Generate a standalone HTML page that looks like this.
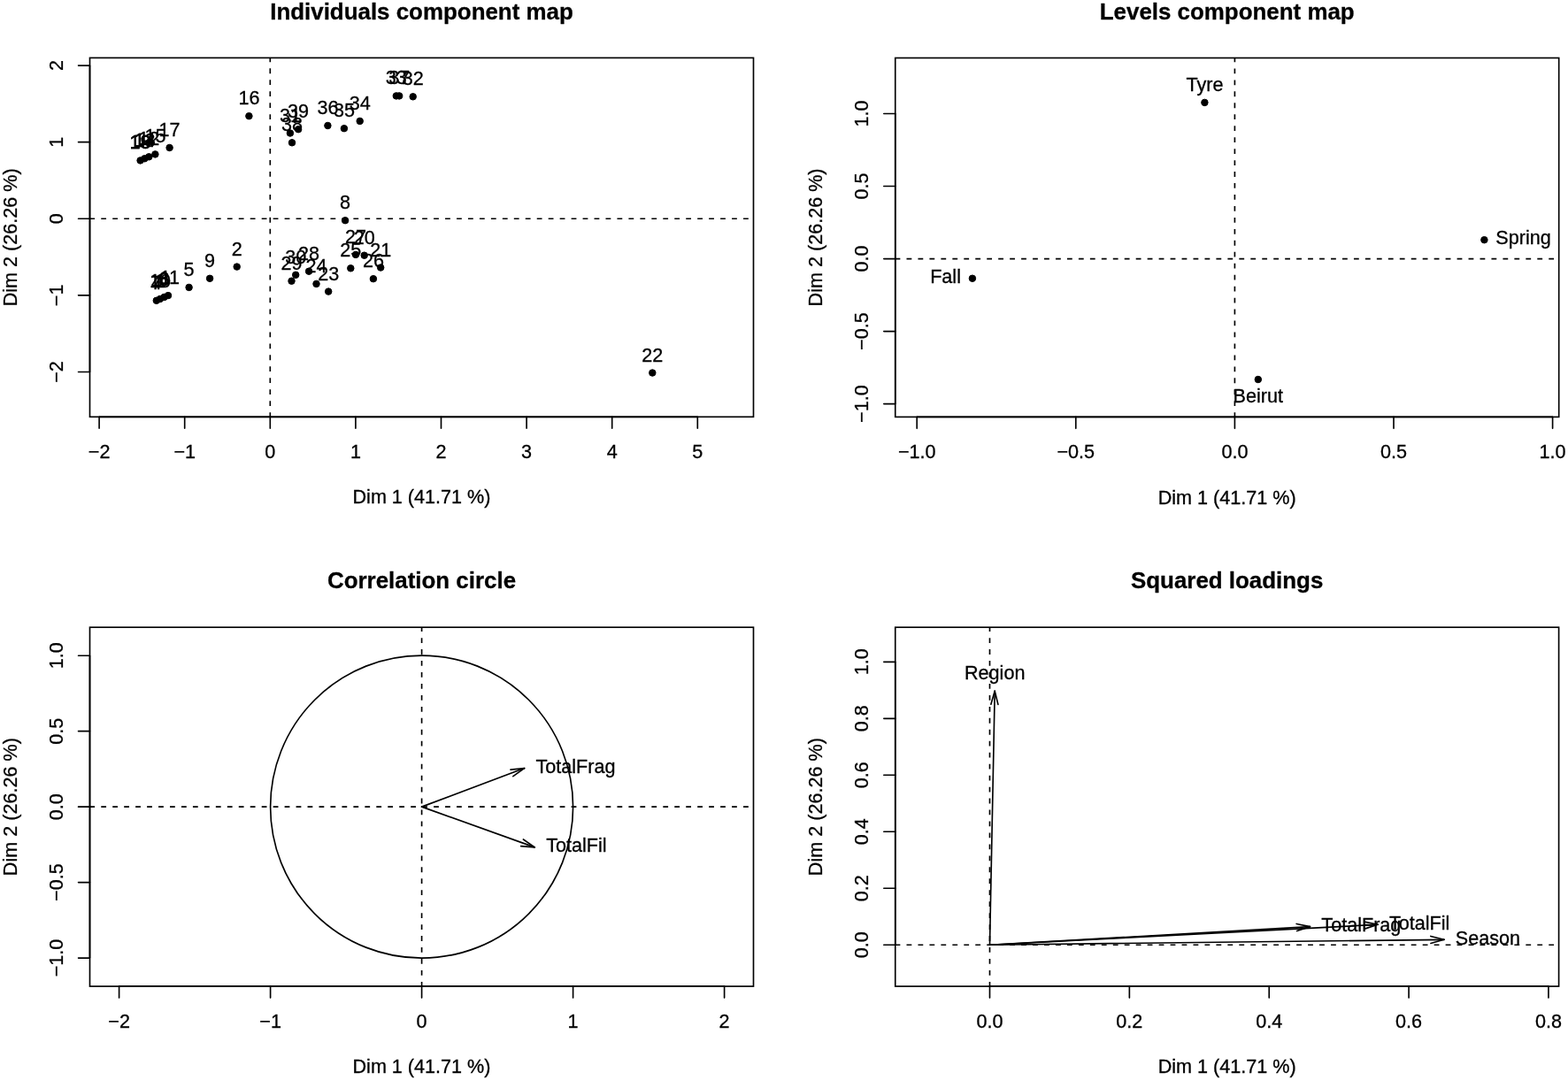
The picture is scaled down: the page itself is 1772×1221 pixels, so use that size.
<!DOCTYPE html>
<html><head><meta charset="utf-8"><title>PCAmix plots</title>
<style>
html,body{margin:0;padding:0;background:#fff;}
svg{display:block;filter:blur(0.45px);}
</style></head>
<body>
<svg width="1772" height="1221" viewBox="0 0 1772 1221">
<rect width="1772" height="1221" fill="#fff"/>
<g fill="#000" stroke="#000" font-family="'Liberation Sans', Arial, Helvetica, sans-serif" font-size="21.6">
<rect x="101.50" y="65.40" width="750.00" height="405.90" fill="none" stroke-width="1.65"/>
<line x1="112.10" y1="471.30" x2="788.30" y2="471.30" stroke-linecap="butt" stroke-width="1.65"/>
<line x1="112.10" y1="471.30" x2="112.10" y2="484.26" stroke-linecap="round" stroke-width="1.65"/>
<text stroke-width="0.3" x="112.10" y="518.20" text-anchor="middle">−2</text>
<line x1="208.70" y1="471.30" x2="208.70" y2="484.26" stroke-linecap="round" stroke-width="1.65"/>
<text stroke-width="0.3" x="208.70" y="518.20" text-anchor="middle">−1</text>
<line x1="305.30" y1="471.30" x2="305.30" y2="484.26" stroke-linecap="round" stroke-width="1.65"/>
<text stroke-width="0.3" x="305.30" y="518.20" text-anchor="middle">0</text>
<line x1="401.90" y1="471.30" x2="401.90" y2="484.26" stroke-linecap="round" stroke-width="1.65"/>
<text stroke-width="0.3" x="401.90" y="518.20" text-anchor="middle">1</text>
<line x1="498.50" y1="471.30" x2="498.50" y2="484.26" stroke-linecap="round" stroke-width="1.65"/>
<text stroke-width="0.3" x="498.50" y="518.20" text-anchor="middle">2</text>
<line x1="595.10" y1="471.30" x2="595.10" y2="484.26" stroke-linecap="round" stroke-width="1.65"/>
<text stroke-width="0.3" x="595.10" y="518.20" text-anchor="middle">3</text>
<line x1="691.70" y1="471.30" x2="691.70" y2="484.26" stroke-linecap="round" stroke-width="1.65"/>
<text stroke-width="0.3" x="691.70" y="518.20" text-anchor="middle">4</text>
<line x1="788.30" y1="471.30" x2="788.30" y2="484.26" stroke-linecap="round" stroke-width="1.65"/>
<text stroke-width="0.3" x="788.30" y="518.20" text-anchor="middle">5</text>
<line x1="101.50" y1="420.45" x2="101.50" y2="74.05" stroke-linecap="butt" stroke-width="1.65"/>
<line x1="101.50" y1="420.45" x2="88.54" y2="420.45" stroke-linecap="round" stroke-width="1.65"/>
<text stroke-width="0.3" transform="translate(70.80,420.45) rotate(-90)" x="0" y="0" text-anchor="middle">−2</text>
<line x1="101.50" y1="333.85" x2="88.54" y2="333.85" stroke-linecap="round" stroke-width="1.65"/>
<text stroke-width="0.3" transform="translate(70.80,333.85) rotate(-90)" x="0" y="0" text-anchor="middle">−1</text>
<line x1="101.50" y1="247.25" x2="88.54" y2="247.25" stroke-linecap="round" stroke-width="1.65"/>
<text stroke-width="0.3" transform="translate(70.80,247.25) rotate(-90)" x="0" y="0" text-anchor="middle">0</text>
<line x1="101.50" y1="160.65" x2="88.54" y2="160.65" stroke-linecap="round" stroke-width="1.65"/>
<text stroke-width="0.3" transform="translate(70.80,160.65) rotate(-90)" x="0" y="0" text-anchor="middle">1</text>
<line x1="101.50" y1="74.05" x2="88.54" y2="74.05" stroke-linecap="round" stroke-width="1.65"/>
<text stroke-width="0.3" transform="translate(70.80,74.05) rotate(-90)" x="0" y="0" text-anchor="middle">2</text>
<text stroke-width="0.3" x="476.50" y="21.50" text-anchor="middle" font-weight="bold" font-size="25.92">Individuals component map</text>
<text stroke-width="0.3" x="476.50" y="569.40" text-anchor="middle">Dim 1 (41.71 %)</text>
<text stroke-width="0.3" transform="translate(18.50,268.35) rotate(-90)" x="0" y="0" text-anchor="middle">Dim 2 (26.26 %)</text>
<path d="M101.50 247.25H107.10M114.26 247.25H120.06M127.22 247.25H133.02M140.18 247.25H145.98M153.14 247.25H158.94M166.10 247.25H171.90M179.06 247.25H184.86M192.02 247.25H197.82M204.98 247.25H210.78M217.94 247.25H223.74M230.90 247.25H236.70M243.86 247.25H249.66M256.82 247.25H262.62M269.78 247.25H275.58M282.74 247.25H288.54M295.70 247.25H301.50M308.66 247.25H314.46M321.62 247.25H327.42M334.58 247.25H340.38M347.54 247.25H353.34M360.50 247.25H366.30M373.46 247.25H379.26M386.42 247.25H392.22M399.38 247.25H405.18M412.34 247.25H418.14M425.30 247.25H431.10M438.26 247.25H444.06M451.22 247.25H457.02M464.18 247.25H469.98M477.14 247.25H482.94M490.10 247.25H495.90M503.06 247.25H508.86M516.02 247.25H521.82M528.98 247.25H534.78M541.94 247.25H547.74M554.90 247.25H560.70M567.86 247.25H573.66M580.82 247.25H586.62M593.78 247.25H599.58M606.74 247.25H612.54M619.70 247.25H625.50M632.66 247.25H638.46M645.62 247.25H651.42M658.58 247.25H664.38M671.54 247.25H677.34M684.50 247.25H690.30M697.46 247.25H703.26M710.42 247.25H716.22M723.38 247.25H729.18M736.34 247.25H742.14M749.30 247.25H755.10M762.26 247.25H768.06M775.22 247.25H781.02M788.18 247.25H793.98M801.14 247.25H806.94M814.10 247.25H819.90M827.06 247.25H832.86M840.02 247.25H845.82" fill="none" stroke-width="1.65"/>
<path d="M305.30 471.30V466.15M305.30 458.99V453.19M305.30 446.03V440.23M305.30 433.07V427.27M305.30 420.11V414.31M305.30 407.15V401.35M305.30 394.19V388.39M305.30 381.23V375.43M305.30 368.27V362.47M305.30 355.31V349.51M305.30 342.35V336.55M305.30 329.39V323.59M305.30 316.43V310.63M305.30 303.47V297.67M305.30 290.51V284.71M305.30 277.55V271.75M305.30 264.59V258.79M305.30 251.63V245.83M305.30 238.67V232.87M305.30 225.71V219.91M305.30 212.75V206.95M305.30 199.79V193.99M305.30 186.83V181.03M305.30 173.87V168.07M305.30 160.91V155.11M305.30 147.95V142.15M305.30 134.99V129.19M305.30 122.03V116.23M305.30 109.07V103.27M305.30 96.11V90.31M305.30 83.15V77.35M305.30 70.19V65.40" fill="none" stroke-width="1.65"/>
<rect x="1011.75" y="65.50" width="749.95" height="405.90" fill="none" stroke-width="1.65"/>
<line x1="1036.20" y1="471.40" x2="1754.60" y2="471.40" stroke-linecap="butt" stroke-width="1.65"/>
<line x1="1036.20" y1="471.40" x2="1036.20" y2="484.36" stroke-linecap="round" stroke-width="1.65"/>
<text stroke-width="0.3" x="1036.20" y="518.30" text-anchor="middle">−1.0</text>
<line x1="1215.80" y1="471.40" x2="1215.80" y2="484.36" stroke-linecap="round" stroke-width="1.65"/>
<text stroke-width="0.3" x="1215.80" y="518.30" text-anchor="middle">−0.5</text>
<line x1="1395.40" y1="471.40" x2="1395.40" y2="484.36" stroke-linecap="round" stroke-width="1.65"/>
<text stroke-width="0.3" x="1395.40" y="518.30" text-anchor="middle">0.0</text>
<line x1="1575.00" y1="471.40" x2="1575.00" y2="484.36" stroke-linecap="round" stroke-width="1.65"/>
<text stroke-width="0.3" x="1575.00" y="518.30" text-anchor="middle">0.5</text>
<line x1="1754.60" y1="471.40" x2="1754.60" y2="484.36" stroke-linecap="round" stroke-width="1.65"/>
<text stroke-width="0.3" x="1754.60" y="518.30" text-anchor="middle">1.0</text>
<line x1="1011.75" y1="456.60" x2="1011.75" y2="128.50" stroke-linecap="butt" stroke-width="1.65"/>
<line x1="1011.75" y1="456.60" x2="998.79" y2="456.60" stroke-linecap="round" stroke-width="1.65"/>
<text stroke-width="0.3" transform="translate(981.05,456.60) rotate(-90)" x="0" y="0" text-anchor="middle">−1.0</text>
<line x1="1011.75" y1="374.58" x2="998.79" y2="374.58" stroke-linecap="round" stroke-width="1.65"/>
<text stroke-width="0.3" transform="translate(981.05,374.58) rotate(-90)" x="0" y="0" text-anchor="middle">−0.5</text>
<line x1="1011.75" y1="292.55" x2="998.79" y2="292.55" stroke-linecap="round" stroke-width="1.65"/>
<text stroke-width="0.3" transform="translate(981.05,292.55) rotate(-90)" x="0" y="0" text-anchor="middle">0.0</text>
<line x1="1011.75" y1="210.53" x2="998.79" y2="210.53" stroke-linecap="round" stroke-width="1.65"/>
<text stroke-width="0.3" transform="translate(981.05,210.53) rotate(-90)" x="0" y="0" text-anchor="middle">0.5</text>
<line x1="1011.75" y1="128.50" x2="998.79" y2="128.50" stroke-linecap="round" stroke-width="1.65"/>
<text stroke-width="0.3" transform="translate(981.05,128.50) rotate(-90)" x="0" y="0" text-anchor="middle">1.0</text>
<text stroke-width="0.3" x="1386.72" y="21.60" text-anchor="middle" font-weight="bold" font-size="25.92">Levels component map</text>
<text stroke-width="0.3" x="1386.72" y="569.50" text-anchor="middle">Dim 1 (41.71 %)</text>
<text stroke-width="0.3" transform="translate(928.75,268.45) rotate(-90)" x="0" y="0" text-anchor="middle">Dim 2 (26.26 %)</text>
<path d="M1011.75 292.55H1017.35M1024.51 292.55H1030.31M1037.47 292.55H1043.27M1050.43 292.55H1056.23M1063.39 292.55H1069.19M1076.35 292.55H1082.15M1089.31 292.55H1095.11M1102.27 292.55H1108.07M1115.23 292.55H1121.03M1128.19 292.55H1133.99M1141.15 292.55H1146.95M1154.11 292.55H1159.91M1167.07 292.55H1172.87M1180.03 292.55H1185.83M1192.99 292.55H1198.79M1205.95 292.55H1211.75M1218.91 292.55H1224.71M1231.87 292.55H1237.67M1244.83 292.55H1250.63M1257.79 292.55H1263.59M1270.75 292.55H1276.55M1283.71 292.55H1289.51M1296.67 292.55H1302.47M1309.63 292.55H1315.43M1322.59 292.55H1328.39M1335.55 292.55H1341.35M1348.51 292.55H1354.31M1361.47 292.55H1367.27M1374.43 292.55H1380.23M1387.39 292.55H1393.19M1400.35 292.55H1406.15M1413.31 292.55H1419.11M1426.27 292.55H1432.07M1439.23 292.55H1445.03M1452.19 292.55H1457.99M1465.15 292.55H1470.95M1478.11 292.55H1483.91M1491.07 292.55H1496.87M1504.03 292.55H1509.83M1516.99 292.55H1522.79M1529.95 292.55H1535.75M1542.91 292.55H1548.71M1555.87 292.55H1561.67M1568.83 292.55H1574.63M1581.79 292.55H1587.59M1594.75 292.55H1600.55M1607.71 292.55H1613.51M1620.67 292.55H1626.47M1633.63 292.55H1639.43M1646.59 292.55H1652.39M1659.55 292.55H1665.35M1672.51 292.55H1678.31M1685.47 292.55H1691.27M1698.43 292.55H1704.23M1711.39 292.55H1717.19M1724.35 292.55H1730.15M1737.31 292.55H1743.11M1750.27 292.55H1756.07" fill="none" stroke-width="1.65"/>
<path d="M1395.40 471.40V466.25M1395.40 459.09V453.29M1395.40 446.13V440.33M1395.40 433.17V427.37M1395.40 420.21V414.41M1395.40 407.25V401.45M1395.40 394.29V388.49M1395.40 381.33V375.53M1395.40 368.37V362.57M1395.40 355.41V349.61M1395.40 342.45V336.65M1395.40 329.49V323.69M1395.40 316.53V310.73M1395.40 303.57V297.77M1395.40 290.61V284.81M1395.40 277.65V271.85M1395.40 264.69V258.89M1395.40 251.73V245.93M1395.40 238.77V232.97M1395.40 225.81V220.01M1395.40 212.85V207.05M1395.40 199.89V194.09M1395.40 186.93V181.13M1395.40 173.97V168.17M1395.40 161.01V155.21M1395.40 148.05V142.25M1395.40 135.09V129.29M1395.40 122.13V116.33M1395.40 109.17V103.37M1395.40 96.21V90.41M1395.40 83.25V77.45M1395.40 70.29V65.50" fill="none" stroke-width="1.65"/>
<rect x="101.50" y="709.20" width="750.00" height="405.90" fill="none" stroke-width="1.65"/>
<line x1="134.60" y1="1115.10" x2="818.60" y2="1115.10" stroke-linecap="butt" stroke-width="1.65"/>
<line x1="134.60" y1="1115.10" x2="134.60" y2="1128.06" stroke-linecap="round" stroke-width="1.65"/>
<text stroke-width="0.3" x="134.60" y="1162.00" text-anchor="middle">−2</text>
<line x1="305.60" y1="1115.10" x2="305.60" y2="1128.06" stroke-linecap="round" stroke-width="1.65"/>
<text stroke-width="0.3" x="305.60" y="1162.00" text-anchor="middle">−1</text>
<line x1="476.60" y1="1115.10" x2="476.60" y2="1128.06" stroke-linecap="round" stroke-width="1.65"/>
<text stroke-width="0.3" x="476.60" y="1162.00" text-anchor="middle">0</text>
<line x1="647.60" y1="1115.10" x2="647.60" y2="1128.06" stroke-linecap="round" stroke-width="1.65"/>
<text stroke-width="0.3" x="647.60" y="1162.00" text-anchor="middle">1</text>
<line x1="818.60" y1="1115.10" x2="818.60" y2="1128.06" stroke-linecap="round" stroke-width="1.65"/>
<text stroke-width="0.3" x="818.60" y="1162.00" text-anchor="middle">2</text>
<line x1="101.50" y1="1083.06" x2="101.50" y2="741.20" stroke-linecap="butt" stroke-width="1.65"/>
<line x1="101.50" y1="1083.06" x2="88.54" y2="1083.06" stroke-linecap="round" stroke-width="1.65"/>
<text stroke-width="0.3" transform="translate(70.80,1083.06) rotate(-90)" x="0" y="0" text-anchor="middle">−1.0</text>
<line x1="101.50" y1="997.60" x2="88.54" y2="997.60" stroke-linecap="round" stroke-width="1.65"/>
<text stroke-width="0.3" transform="translate(70.80,997.60) rotate(-90)" x="0" y="0" text-anchor="middle">−0.5</text>
<line x1="101.50" y1="912.13" x2="88.54" y2="912.13" stroke-linecap="round" stroke-width="1.65"/>
<text stroke-width="0.3" transform="translate(70.80,912.13) rotate(-90)" x="0" y="0" text-anchor="middle">0.0</text>
<line x1="101.50" y1="826.66" x2="88.54" y2="826.66" stroke-linecap="round" stroke-width="1.65"/>
<text stroke-width="0.3" transform="translate(70.80,826.66) rotate(-90)" x="0" y="0" text-anchor="middle">0.5</text>
<line x1="101.50" y1="741.20" x2="88.54" y2="741.20" stroke-linecap="round" stroke-width="1.65"/>
<text stroke-width="0.3" transform="translate(70.80,741.20) rotate(-90)" x="0" y="0" text-anchor="middle">1.0</text>
<text stroke-width="0.3" x="476.50" y="665.30" text-anchor="middle" font-weight="bold" font-size="25.92">Correlation circle</text>
<text stroke-width="0.3" x="476.50" y="1213.20" text-anchor="middle">Dim 1 (41.71 %)</text>
<text stroke-width="0.3" transform="translate(18.50,912.15) rotate(-90)" x="0" y="0" text-anchor="middle">Dim 2 (26.26 %)</text>
<path d="M101.50 912.13H107.10M114.26 912.13H120.06M127.22 912.13H133.02M140.18 912.13H145.98M153.14 912.13H158.94M166.10 912.13H171.90M179.06 912.13H184.86M192.02 912.13H197.82M204.98 912.13H210.78M217.94 912.13H223.74M230.90 912.13H236.70M243.86 912.13H249.66M256.82 912.13H262.62M269.78 912.13H275.58M282.74 912.13H288.54M295.70 912.13H301.50M308.66 912.13H314.46M321.62 912.13H327.42M334.58 912.13H340.38M347.54 912.13H353.34M360.50 912.13H366.30M373.46 912.13H379.26M386.42 912.13H392.22M399.38 912.13H405.18M412.34 912.13H418.14M425.30 912.13H431.10M438.26 912.13H444.06M451.22 912.13H457.02M464.18 912.13H469.98M477.14 912.13H482.94M490.10 912.13H495.90M503.06 912.13H508.86M516.02 912.13H521.82M528.98 912.13H534.78M541.94 912.13H547.74M554.90 912.13H560.70M567.86 912.13H573.66M580.82 912.13H586.62M593.78 912.13H599.58M606.74 912.13H612.54M619.70 912.13H625.50M632.66 912.13H638.46M645.62 912.13H651.42M658.58 912.13H664.38M671.54 912.13H677.34M684.50 912.13H690.30M697.46 912.13H703.26M710.42 912.13H716.22M723.38 912.13H729.18M736.34 912.13H742.14M749.30 912.13H755.10M762.26 912.13H768.06M775.22 912.13H781.02M788.18 912.13H793.98M801.14 912.13H806.94M814.10 912.13H819.90M827.06 912.13H832.86M840.02 912.13H845.82" fill="none" stroke-width="1.65"/>
<path d="M476.60 1115.10V1109.95M476.60 1102.79V1096.99M476.60 1089.83V1084.03M476.60 1076.87V1071.07M476.60 1063.91V1058.11M476.60 1050.95V1045.15M476.60 1037.99V1032.19M476.60 1025.03V1019.23M476.60 1012.07V1006.27M476.60 999.11V993.31M476.60 986.15V980.35M476.60 973.19V967.39M476.60 960.23V954.43M476.60 947.27V941.47M476.60 934.31V928.51M476.60 921.35V915.55M476.60 908.39V902.59M476.60 895.43V889.63M476.60 882.47V876.67M476.60 869.51V863.71M476.60 856.55V850.75M476.60 843.59V837.79M476.60 830.63V824.83M476.60 817.67V811.87M476.60 804.71V798.91M476.60 791.75V785.95M476.60 778.79V772.99M476.60 765.83V760.03M476.60 752.87V747.07M476.60 739.91V734.11M476.60 726.95V721.15M476.60 713.99V709.20" fill="none" stroke-width="1.65"/>
<rect x="1011.75" y="709.20" width="749.85" height="405.90" fill="none" stroke-width="1.65"/>
<line x1="1118.50" y1="1115.10" x2="1749.94" y2="1115.10" stroke-linecap="butt" stroke-width="1.65"/>
<line x1="1118.50" y1="1115.10" x2="1118.50" y2="1128.06" stroke-linecap="round" stroke-width="1.65"/>
<text stroke-width="0.3" x="1118.50" y="1162.00" text-anchor="middle">0.0</text>
<line x1="1276.36" y1="1115.10" x2="1276.36" y2="1128.06" stroke-linecap="round" stroke-width="1.65"/>
<text stroke-width="0.3" x="1276.36" y="1162.00" text-anchor="middle">0.2</text>
<line x1="1434.22" y1="1115.10" x2="1434.22" y2="1128.06" stroke-linecap="round" stroke-width="1.65"/>
<text stroke-width="0.3" x="1434.22" y="1162.00" text-anchor="middle">0.4</text>
<line x1="1592.08" y1="1115.10" x2="1592.08" y2="1128.06" stroke-linecap="round" stroke-width="1.65"/>
<text stroke-width="0.3" x="1592.08" y="1162.00" text-anchor="middle">0.6</text>
<line x1="1749.94" y1="1115.10" x2="1749.94" y2="1128.06" stroke-linecap="round" stroke-width="1.65"/>
<text stroke-width="0.3" x="1749.94" y="1162.00" text-anchor="middle">0.8</text>
<line x1="1011.75" y1="1068.23" x2="1011.75" y2="748.33" stroke-linecap="butt" stroke-width="1.65"/>
<line x1="1011.75" y1="1068.23" x2="998.79" y2="1068.23" stroke-linecap="round" stroke-width="1.65"/>
<text stroke-width="0.3" transform="translate(981.05,1068.23) rotate(-90)" x="0" y="0" text-anchor="middle">0.0</text>
<line x1="1011.75" y1="1004.25" x2="998.79" y2="1004.25" stroke-linecap="round" stroke-width="1.65"/>
<text stroke-width="0.3" transform="translate(981.05,1004.25) rotate(-90)" x="0" y="0" text-anchor="middle">0.2</text>
<line x1="1011.75" y1="940.27" x2="998.79" y2="940.27" stroke-linecap="round" stroke-width="1.65"/>
<text stroke-width="0.3" transform="translate(981.05,940.27) rotate(-90)" x="0" y="0" text-anchor="middle">0.4</text>
<line x1="1011.75" y1="876.29" x2="998.79" y2="876.29" stroke-linecap="round" stroke-width="1.65"/>
<text stroke-width="0.3" transform="translate(981.05,876.29) rotate(-90)" x="0" y="0" text-anchor="middle">0.6</text>
<line x1="1011.75" y1="812.31" x2="998.79" y2="812.31" stroke-linecap="round" stroke-width="1.65"/>
<text stroke-width="0.3" transform="translate(981.05,812.31) rotate(-90)" x="0" y="0" text-anchor="middle">0.8</text>
<line x1="1011.75" y1="748.33" x2="998.79" y2="748.33" stroke-linecap="round" stroke-width="1.65"/>
<text stroke-width="0.3" transform="translate(981.05,748.33) rotate(-90)" x="0" y="0" text-anchor="middle">1.0</text>
<text stroke-width="0.3" x="1386.67" y="665.30" text-anchor="middle" font-weight="bold" font-size="25.92">Squared loadings</text>
<text stroke-width="0.3" x="1386.67" y="1213.20" text-anchor="middle">Dim 1 (41.71 %)</text>
<text stroke-width="0.3" transform="translate(928.75,912.15) rotate(-90)" x="0" y="0" text-anchor="middle">Dim 2 (26.26 %)</text>
<path d="M1011.75 1068.23H1017.35M1024.51 1068.23H1030.31M1037.47 1068.23H1043.27M1050.43 1068.23H1056.23M1063.39 1068.23H1069.19M1076.35 1068.23H1082.15M1089.31 1068.23H1095.11M1102.27 1068.23H1108.07M1115.23 1068.23H1121.03M1128.19 1068.23H1133.99M1141.15 1068.23H1146.95M1154.11 1068.23H1159.91M1167.07 1068.23H1172.87M1180.03 1068.23H1185.83M1192.99 1068.23H1198.79M1205.95 1068.23H1211.75M1218.91 1068.23H1224.71M1231.87 1068.23H1237.67M1244.83 1068.23H1250.63M1257.79 1068.23H1263.59M1270.75 1068.23H1276.55M1283.71 1068.23H1289.51M1296.67 1068.23H1302.47M1309.63 1068.23H1315.43M1322.59 1068.23H1328.39M1335.55 1068.23H1341.35M1348.51 1068.23H1354.31M1361.47 1068.23H1367.27M1374.43 1068.23H1380.23M1387.39 1068.23H1393.19M1400.35 1068.23H1406.15M1413.31 1068.23H1419.11M1426.27 1068.23H1432.07M1439.23 1068.23H1445.03M1452.19 1068.23H1457.99M1465.15 1068.23H1470.95M1478.11 1068.23H1483.91M1491.07 1068.23H1496.87M1504.03 1068.23H1509.83M1516.99 1068.23H1522.79M1529.95 1068.23H1535.75M1542.91 1068.23H1548.71M1555.87 1068.23H1561.67M1568.83 1068.23H1574.63M1581.79 1068.23H1587.59M1594.75 1068.23H1600.55M1607.71 1068.23H1613.51M1620.67 1068.23H1626.47M1633.63 1068.23H1639.43M1646.59 1068.23H1652.39M1659.55 1068.23H1665.35M1672.51 1068.23H1678.31M1685.47 1068.23H1691.27M1698.43 1068.23H1704.23M1711.39 1068.23H1717.19M1724.35 1068.23H1730.15M1737.31 1068.23H1743.11M1750.27 1068.23H1756.07" fill="none" stroke-width="1.65"/>
<path d="M1118.50 1115.10V1109.95M1118.50 1102.79V1096.99M1118.50 1089.83V1084.03M1118.50 1076.87V1071.07M1118.50 1063.91V1058.11M1118.50 1050.95V1045.15M1118.50 1037.99V1032.19M1118.50 1025.03V1019.23M1118.50 1012.07V1006.27M1118.50 999.11V993.31M1118.50 986.15V980.35M1118.50 973.19V967.39M1118.50 960.23V954.43M1118.50 947.27V941.47M1118.50 934.31V928.51M1118.50 921.35V915.55M1118.50 908.39V902.59M1118.50 895.43V889.63M1118.50 882.47V876.67M1118.50 869.51V863.71M1118.50 856.55V850.75M1118.50 843.59V837.79M1118.50 830.63V824.83M1118.50 817.67V811.87M1118.50 804.71V798.91M1118.50 791.75V785.95M1118.50 778.79V772.99M1118.50 765.83V760.03M1118.50 752.87V747.07M1118.50 739.91V734.11M1118.50 726.95V721.15M1118.50 713.99V709.20" fill="none" stroke-width="1.65"/>
<circle cx="281.40" cy="131.20" r="3.75"/>
<circle cx="191.60" cy="167.00" r="3.75"/>
<circle cx="158.60" cy="181.40" r="3.75"/>
<circle cx="163.40" cy="179.30" r="3.75"/>
<circle cx="168.30" cy="177.30" r="3.75"/>
<circle cx="175.40" cy="174.40" r="3.75"/>
<circle cx="327.90" cy="150.50" r="3.75"/>
<circle cx="337.10" cy="146.20" r="3.75"/>
<circle cx="330.00" cy="161.30" r="3.75"/>
<circle cx="370.40" cy="142.00" r="3.75"/>
<circle cx="388.90" cy="145.20" r="3.75"/>
<circle cx="406.70" cy="136.90" r="3.75"/>
<circle cx="447.80" cy="108.40" r="3.75"/>
<circle cx="451.20" cy="108.40" r="3.75"/>
<circle cx="466.70" cy="109.30" r="3.75"/>
<circle cx="390.10" cy="249.20" r="3.75"/>
<circle cx="329.50" cy="317.70" r="3.75"/>
<circle cx="334.20" cy="310.80" r="3.75"/>
<circle cx="349.10" cy="306.70" r="3.75"/>
<circle cx="357.50" cy="320.90" r="3.75"/>
<circle cx="371.20" cy="329.60" r="3.75"/>
<circle cx="396.30" cy="303.30" r="3.75"/>
<circle cx="402.00" cy="287.90" r="3.75"/>
<circle cx="411.70" cy="288.70" r="3.75"/>
<circle cx="430.20" cy="302.50" r="3.75"/>
<circle cx="421.90" cy="315.20" r="3.75"/>
<circle cx="737.30" cy="421.50" r="3.75"/>
<circle cx="267.70" cy="301.60" r="3.75"/>
<circle cx="237.10" cy="314.80" r="3.75"/>
<circle cx="213.60" cy="324.90" r="3.75"/>
<circle cx="176.80" cy="339.80" r="3.75"/>
<circle cx="180.90" cy="338.00" r="3.75"/>
<circle cx="185.60" cy="335.90" r="3.75"/>
<circle cx="190.00" cy="334.10" r="3.75"/>
<text stroke-width="0.3" x="281.40" y="118.20" text-anchor="middle">16</text>
<text stroke-width="0.3" x="191.60" y="154.00" text-anchor="middle">17</text>
<text stroke-width="0.3" x="158.60" y="168.40" text-anchor="middle">18</text>
<text stroke-width="0.3" x="158.60" y="168.40" text-anchor="middle">19</text>
<text stroke-width="0.3" x="163.40" y="166.30" text-anchor="middle">13</text>
<text stroke-width="0.3" x="163.40" y="166.30" text-anchor="middle">14</text>
<text stroke-width="0.3" x="168.30" y="164.30" text-anchor="middle">12</text>
<text stroke-width="0.3" x="175.40" y="161.40" text-anchor="middle">15</text>
<text stroke-width="0.3" x="327.90" y="137.50" text-anchor="middle">31</text>
<text stroke-width="0.3" x="337.10" y="133.20" text-anchor="middle">39</text>
<text stroke-width="0.3" x="330.00" y="148.30" text-anchor="middle">38</text>
<text stroke-width="0.3" x="370.40" y="129.00" text-anchor="middle">36</text>
<text stroke-width="0.3" x="388.90" y="132.20" text-anchor="middle">35</text>
<text stroke-width="0.3" x="406.70" y="123.90" text-anchor="middle">34</text>
<text stroke-width="0.3" x="447.80" y="95.40" text-anchor="middle">33</text>
<text stroke-width="0.3" x="451.20" y="95.40" text-anchor="middle">37</text>
<text stroke-width="0.3" x="466.70" y="96.30" text-anchor="middle">32</text>
<text stroke-width="0.3" x="390.10" y="236.20" text-anchor="middle">8</text>
<text stroke-width="0.3" x="329.50" y="304.70" text-anchor="middle">29</text>
<text stroke-width="0.3" x="334.20" y="297.80" text-anchor="middle">30</text>
<text stroke-width="0.3" x="349.10" y="293.70" text-anchor="middle">28</text>
<text stroke-width="0.3" x="357.50" y="307.90" text-anchor="middle">24</text>
<text stroke-width="0.3" x="371.20" y="316.60" text-anchor="middle">23</text>
<text stroke-width="0.3" x="396.30" y="290.30" text-anchor="middle">25</text>
<text stroke-width="0.3" x="402.00" y="274.90" text-anchor="middle">27</text>
<text stroke-width="0.3" x="411.70" y="275.70" text-anchor="middle">20</text>
<text stroke-width="0.3" x="430.20" y="289.50" text-anchor="middle">21</text>
<text stroke-width="0.3" x="421.90" y="302.20" text-anchor="middle">26</text>
<text stroke-width="0.3" x="737.30" y="408.50" text-anchor="middle">22</text>
<text stroke-width="0.3" x="267.70" y="288.60" text-anchor="middle">2</text>
<text stroke-width="0.3" x="237.10" y="301.80" text-anchor="middle">9</text>
<text stroke-width="0.3" x="213.60" y="311.90" text-anchor="middle">5</text>
<text stroke-width="0.3" x="176.80" y="326.80" text-anchor="middle">7</text>
<text stroke-width="0.3" x="176.80" y="326.80" text-anchor="middle">4</text>
<text stroke-width="0.3" x="180.90" y="325.00" text-anchor="middle">1</text>
<text stroke-width="0.3" x="180.90" y="325.00" text-anchor="middle">10</text>
<text stroke-width="0.3" x="185.60" y="322.90" text-anchor="middle">6</text>
<text stroke-width="0.3" x="185.60" y="322.90" text-anchor="middle">3</text>
<text stroke-width="0.3" x="191.90" y="321.10" text-anchor="middle">11</text>
<circle cx="1361.40" cy="115.90" r="3.75"/>
<text stroke-width="0.3" x="1361.40" y="102.90" text-anchor="middle">Tyre</text>
<circle cx="1677.40" cy="271.20" r="3.75"/>
<text stroke-width="0.3" x="1690.36" y="276.40" text-anchor="start">Spring</text>
<circle cx="1098.90" cy="314.75" r="3.75"/>
<text stroke-width="0.3" x="1085.94" y="319.95" text-anchor="end">Fall</text>
<circle cx="1421.80" cy="429.00" r="3.75"/>
<text stroke-width="0.3" x="1421.80" y="455.10" text-anchor="middle">Beirut</text>
<circle cx="476.6" cy="912.13" r="171.0" fill="none" stroke-width="1.65"/>
<line x1="476.60" y1="912.13" x2="592.50" y2="868.60" stroke-linecap="round" stroke-width="1.65"/>
<line x1="592.50" y1="868.60" x2="577.02" y2="870.11" stroke-linecap="round" stroke-width="1.65"/>
<line x1="592.50" y1="868.60" x2="579.85" y2="877.65" stroke-linecap="round" stroke-width="1.65"/>
<text stroke-width="0.3" x="605.46" y="873.80" text-anchor="start">TotalFrag</text>
<line x1="476.60" y1="912.13" x2="604.20" y2="957.85" stroke-linecap="round" stroke-width="1.65"/>
<line x1="604.20" y1="957.85" x2="591.42" y2="948.99" stroke-linecap="round" stroke-width="1.65"/>
<line x1="604.20" y1="957.85" x2="588.70" y2="956.57" stroke-linecap="round" stroke-width="1.65"/>
<text stroke-width="0.3" x="617.16" y="963.05" text-anchor="start">TotalFil</text>
<line x1="1118.50" y1="1068.23" x2="1124.20" y2="781.30" stroke-linecap="round" stroke-width="1.65"/>
<line x1="1124.20" y1="781.30" x2="1119.88" y2="796.24" stroke-linecap="round" stroke-width="1.65"/>
<line x1="1124.20" y1="781.30" x2="1127.93" y2="796.40" stroke-linecap="round" stroke-width="1.65"/>
<text stroke-width="0.3" x="1124.20" y="768.30" text-anchor="middle">Region</text>
<line x1="1118.50" y1="1068.23" x2="1480.40" y2="1047.60" stroke-linecap="round" stroke-width="1.65"/>
<line x1="1480.40" y1="1047.60" x2="1465.18" y2="1044.44" stroke-linecap="round" stroke-width="1.65"/>
<line x1="1480.40" y1="1047.60" x2="1465.63" y2="1052.47" stroke-linecap="round" stroke-width="1.65"/>
<text stroke-width="0.3" x="1493.36" y="1052.80" text-anchor="start">TotalFrag</text>
<line x1="1118.50" y1="1068.23" x2="1557.00" y2="1045.30" stroke-linecap="round" stroke-width="1.65"/>
<line x1="1557.00" y1="1045.30" x2="1541.79" y2="1042.07" stroke-linecap="round" stroke-width="1.65"/>
<line x1="1557.00" y1="1045.30" x2="1542.21" y2="1050.10" stroke-linecap="round" stroke-width="1.65"/>
<text stroke-width="0.3" x="1569.96" y="1050.50" text-anchor="start">TotalFil</text>
<line x1="1118.50" y1="1068.23" x2="1631.90" y2="1062.30" stroke-linecap="round" stroke-width="1.65"/>
<line x1="1631.90" y1="1062.30" x2="1616.83" y2="1058.45" stroke-linecap="round" stroke-width="1.65"/>
<line x1="1631.90" y1="1062.30" x2="1616.93" y2="1066.50" stroke-linecap="round" stroke-width="1.65"/>
<text stroke-width="0.3" x="1644.86" y="1067.50" text-anchor="start">Season</text>
</g>
</svg>
</body></html>
